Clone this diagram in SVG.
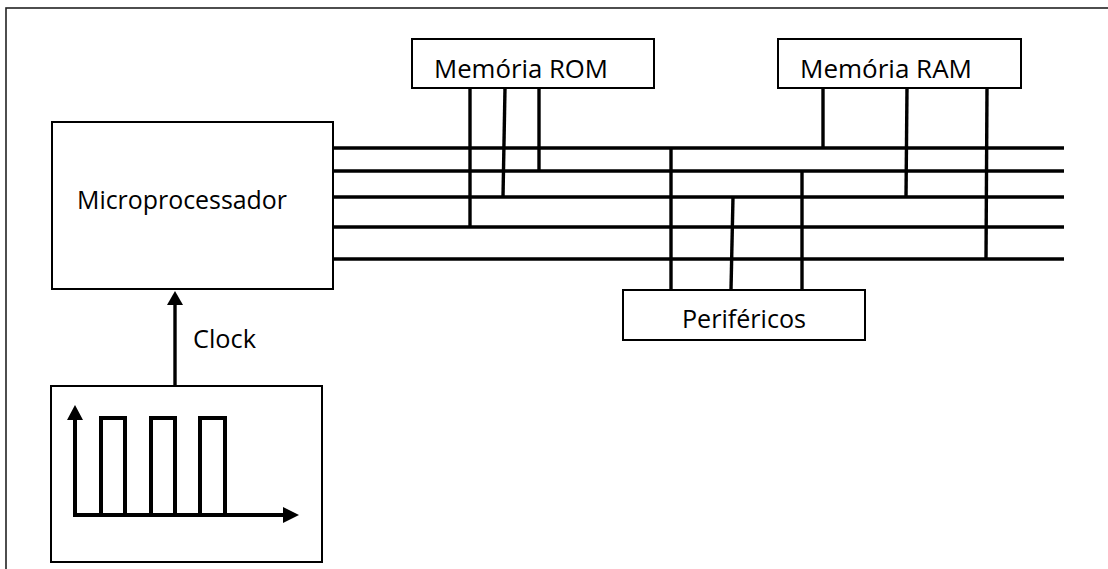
<svg xmlns="http://www.w3.org/2000/svg" width="1108" height="569" viewBox="0 0 1108 569">
<style>
.box{fill:#fff;stroke:#000;stroke-width:2}
.bus{stroke:#000;stroke-width:3.4;fill:none;stroke-linecap:butt}
.lbl{font-family:"Open Sans","Liberation Sans",sans-serif;font-size:26px;fill:#000}
.wave{stroke:#000;stroke-width:4;fill:none}
.head{fill:#000}
</style>
<rect x="0" y="0" width="1108" height="569" fill="#fff"/>
<rect id="frame" x="6" y="8" width="1200" height="700" fill="none" stroke="#222" stroke-width="1.6"/>

<g id="connectors">
<line class="bus" x1="333" y1="148" x2="1064" y2="148"/>
<line class="bus" x1="333" y1="171" x2="1064" y2="171"/>
<line class="bus" x1="333" y1="197" x2="1064" y2="197"/>
<line class="bus" x1="333" y1="227" x2="1064" y2="227"/>
<line class="bus" x1="333" y1="259" x2="1064" y2="259"/>
<line class="bus" x1="470" y1="88" x2="470" y2="227"/>
<line class="bus" x1="505" y1="88" x2="503" y2="197"/>
<line class="bus" x1="539" y1="88" x2="539" y2="171"/>
<line class="bus" x1="823" y1="88" x2="823" y2="148"/>
<line class="bus" x1="907" y1="88" x2="906" y2="197"/>
<line class="bus" x1="987" y1="88" x2="986" y2="259"/>
<line class="bus" x1="671" y1="148" x2="671" y2="290"/>
<line class="bus" x1="733" y1="197" x2="731" y2="290"/>
<line class="bus" x1="802" y1="171" x2="802" y2="290"/>
<line x1="175" y1="386" x2="175" y2="304" stroke="#000" stroke-width="3.4"/>
<path class="head" d="M175,291 L183,305 L167,305 Z"/>
<text class="lbl" x="193" y="348" textLength="63" lengthAdjust="spacingAndGlyphs">Clock</text>
</g>

<g id="microprocessador">
<rect class="box" x="52" y="122" width="281" height="167"/>
<text class="lbl" x="77" y="209" textLength="210" lengthAdjust="spacingAndGlyphs">Microprocessador</text>
</g>

<g id="rom">
<rect class="box" x="412" y="39" width="242" height="49"/>
<text class="lbl" x="434" y="78" textLength="174" lengthAdjust="spacingAndGlyphs">Memória ROM</text>
</g>

<g id="ram">
<rect class="box" x="778" y="39" width="243" height="49"/>
<text class="lbl" x="800" y="78" textLength="172" lengthAdjust="spacingAndGlyphs">Memória RAM</text>
</g>

<g id="perifericos">
<rect class="box" x="623" y="290" width="242" height="50"/>
<text class="lbl" x="682" y="328" textLength="124" lengthAdjust="spacingAndGlyphs">Periféricos</text>
</g>

<g id="clock">
<rect class="box" x="51" y="386" width="271" height="176"/>
<line class="wave" x1="75" y1="517" x2="75" y2="418"/>
<path class="head" d="M75,405 L83,420 L67,420 Z"/>
<line class="wave" x1="73" y1="515" x2="284" y2="515"/>
<path class="head" d="M299,515 L283,507 L283,523 Z"/>
<path class="wave" d="M101,515 V418 H125 V515"/>
<path class="wave" d="M151,515 V418 H175 V515"/>
<path class="wave" d="M200,515 V418 H225 V515"/>
</g>
</svg>
